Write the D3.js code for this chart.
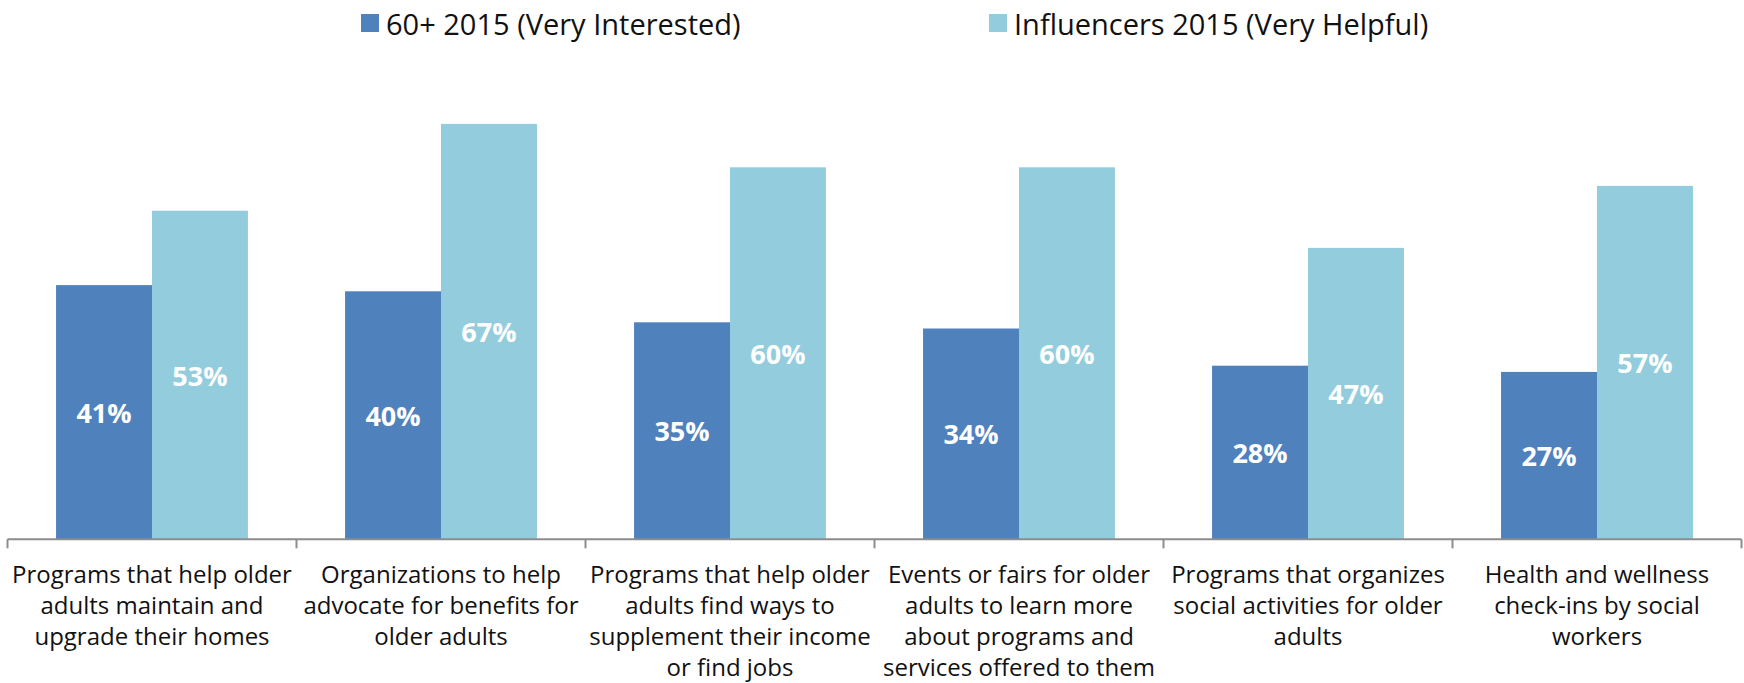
<!DOCTYPE html>
<html>
<head>
<meta charset="utf-8">
<script src="https://cdn.jsdelivr.net/npm/d3@7"></script>
<style>
  html, body { margin: 0; padding: 0; background: #fff; }
  svg { display: block; }
  text { font-family: "Open Sans", Lato, sans-serif; }
</style>
</head>
<body>
<svg id="chart" width="1744" height="683"></svg>
<script>
// Survey items (each entry is one wrapped label, line by line)
const categories = [
  ["Programs that help older", "adults maintain and", "upgrade their homes"],
  ["Organizations to help", "advocate for benefits for", "older adults"],
  ["Programs that help older", "adults find ways to", "supplement their income", "or find jobs"],
  ["Events or fairs for older", "adults to learn more", "about programs and", "services offered to them"],
  ["Programs that organizes", "social activities for older", "adults"],
  ["Health and wellness", "check-ins by social", "workers"]
];
const seriesNames = ["60+ 2015 (Very Interested)", "Influencers 2015 (Very Helpful)"];
const seniors = [0.41, 0.40, 0.35, 0.34, 0.28, 0.27];
const influencers = [0.53, 0.67, 0.60, 0.60, 0.47, 0.57];
const seriesColors = ["#4f81bd", "#93cddd"];

const svg = d3.select("#chart");
const axisY = 539.3;

const catKeys = categories.map((c, i) => i);
const x0 = d3.scaleBand()
  .domain(catKeys)
  .range([7.5, 1741.5])
  .paddingInner(0.336)
  .paddingOuter(0.168);
const x1 = d3.scaleBand()
  .domain([0, 1])
  .range([0, x0.bandwidth()]);
const y = d3.scaleLinear().domain([0, 0.8]).range([axisY, axisY - 0.8 * 620]);

const rows = catKeys.map(i => [seniors[i], influencers[i]]);

// bars
const groups = svg.append("g").selectAll("g")
  .data(rows)
  .join("g")
  .attr("transform", (d, i) => `translate(${x0(i)},0)`);

groups.selectAll("rect")
  .data(d => d.map((v, s) => ({ v, s })))
  .join("rect")
  .attr("x", d => x1(d.s))
  .attr("width", x1.bandwidth())
  .attr("y", d => y(d.v))
  .attr("height", d => y(0) - y(d.v))
  .attr("fill", d => seriesColors[d.s]);

// value labels, centred in each bar
groups.selectAll("text")
  .data(d => d.map((v, s) => ({ v, s })))
  .join("text")
  .attr("x", d => x1(d.s) + x1.bandwidth() / 2)
  .attr("y", d => (y(d.v) + y(0)) / 2)
  .attr("text-anchor", "middle")
  .attr("dominant-baseline", "central")
  .attr("fill", "#fff")
  .attr("font-family", "Lato, 'Open Sans', sans-serif")
  .attr("font-weight", "bold")
  .attr("font-size", 27)
  .text(d => d3.format(".0%")(d.v));

// category axis: baseline with ticks at band boundaries
const step = x0.step();
const start = x0.range()[0];
const axisG = svg.append("g");
axisG.append("line")
  .attr("x1", start).attr("x2", start + step * categories.length)
  .attr("y1", axisY).attr("y2", axisY)
  .attr("stroke", "#8c8c8c").attr("stroke-width", 2);
axisG.selectAll("line.tick")
  .data(d3.range(categories.length + 1))
  .join("line")
  .attr("class", "tick")
  .attr("x1", i => start + i * step).attr("x2", i => start + i * step)
  .attr("y1", axisY).attr("y2", axisY + 9)
  .attr("stroke", "#8c8c8c").attr("stroke-width", 2);

// wrapped category labels
const labelG = svg.append("g");
labelG.selectAll("text")
  .data(categories)
  .join("text")
  .attr("text-anchor", "middle")
  .attr("font-size", 24)
  .attr("fill", "#111")
  .each(function (lines, i) {
    const t = d3.select(this);
    const cx = x0(i) + x0.bandwidth() / 2;
    lines.forEach((ln, k) => {
      t.append("tspan").attr("x", cx).attr("y", 583 + k * 31).text(ln);
    });
  });

// legend
const legendX = [361, 989];
const legend = svg.append("g").selectAll("g")
  .data(seriesNames)
  .join("g")
  .attr("transform", (d, i) => `translate(${legendX[i]},14)`);
legend.append("rect")
  .attr("width", 18).attr("height", 18)
  .attr("fill", (d, i) => seriesColors[i]);
legend.append("text")
  .attr("x", 25).attr("y", 21)
  .attr("font-size", 29)
  .attr("fill", "#111")
  .text(d => d);
</script>
</body>
</html>
